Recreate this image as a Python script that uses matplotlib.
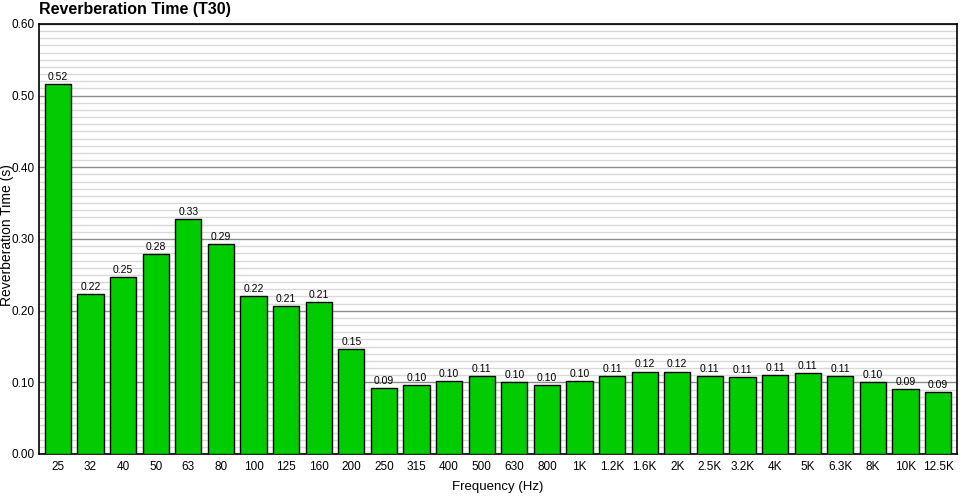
import numpy as np
import matplotlib
matplotlib.use("Agg")
import matplotlib.pyplot as plt

# Fréquences (bandes de tiers d'octave) et temps de réverbération T30
frequences = ["25", "32", "40", "50", "63", "80", "100", "125", "160", "200",
              "250", "315", "400", "500", "630", "800", "1K", "1.2K", "1.6K", "2K",
              "2.5K", "3.2K", "4K", "5K", "6.3K", "8K", "10K", "12.5K"]
t30 = [0.516, 0.223, 0.247, 0.279, 0.328, 0.293, 0.220, 0.206, 0.212, 0.146,
       0.092, 0.096, 0.102, 0.109, 0.100, 0.096, 0.102, 0.109, 0.115, 0.115,
       0.109, 0.107, 0.110, 0.113, 0.109, 0.100, 0.091, 0.086]

plt.rcParams['font.family'] = ['Liberation Sans', 'DejaVu Sans']

fig = plt.figure(figsize=(9.7, 5.01), dpi=100)
ax = fig.add_axes([39 / 970, 47 / 501, 918 / 970, 430 / 501])

x = np.arange(len(frequences))
ax.bar(x, t30, width=0.8, color='#00cc00', edgecolor='black', linewidth=1.0, zorder=3)

# Étiquettes des valeurs
for xi, v in zip(x, t30):
    ax.text(xi, v + 0.003, f"{v:.2f}", ha='center', va='bottom', fontsize=7.5, zorder=4)

ax.set_xlim(-0.58, len(frequences) - 0.42)
ax.set_ylim(0, 0.6)
ax.set_xticks(x)
ax.set_xticklabels(frequences, fontsize=8.5)
ax.set_yticks(np.arange(0, 0.61, 0.1))
ax.set_yticklabels([f"{t:.2f}" for t in np.arange(0, 0.61, 0.1)], fontsize=8.5)
ax.set_yticks(np.arange(0, 0.6, 0.01), minor=True)
ax.tick_params(axis='y', which='both', length=0, pad=3)
ax.tick_params(axis='x', which='both', length=0, pad=5)

# Grille
ax.grid(True, axis='y', which='major', color='#8c8c8c', linewidth=1.0, zorder=0)
ax.grid(True, axis='y', which='minor', color='#d9d9d9', linewidth=1.0, zorder=0)

for s in ax.spines.values():
    s.set_color('black')
    s.set_linewidth(1.2)

ax.set_xlabel("Frequency (Hz)", fontsize=9.5, labelpad=6)
ax.set_ylabel("Reverberation Time (s)", fontsize=10)
ax.yaxis.set_label_coords(-25 / 918, 0.51)
fig.text(39 / 970, 1 - 2 / 501, "Reverberation Time (T30)", fontsize=11.5, fontweight='bold',
         ha='left', va='top')

fig.savefig("out.png", dpi=100)
